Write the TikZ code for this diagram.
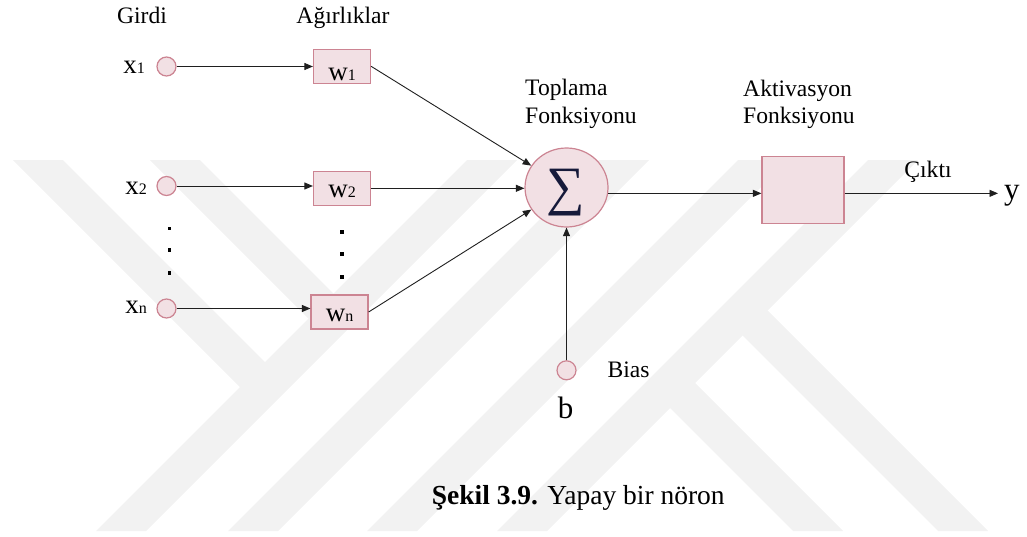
\documentclass[tikz,border=0pt]{standalone}
\usepackage{fontspec}
\setmainfont{Liberation Serif}
\usetikzlibrary{arrows.meta,shapes.geometric}

\definecolor{nodefill}{RGB}{242,224,228}
\definecolor{nodeline}{RGB}{204,132,146}
\definecolor{sumink}{RGB}{22,26,58}
\definecolor{markgray}{RGB}{242,242,242}

\newcommand{\lblfont}{\fontsize{23.6}{28}\selectfont}
\newcommand{\varfont}{\fontsize{27}{30}\selectfont}
\newcommand{\bigvarfont}{\fontsize{31}{34}\selectfont}
\newcommand{\idxfont}{\fontsize{16}{20}\selectfont}
\newcommand{\capfont}{\fontsize{27.5}{32}\selectfont}

\tikzset{
  inputnode/.style={circle, draw=nodeline, fill=nodefill, line width=1.2pt,
    minimum size=19pt, inner sep=0pt},
  weightbox/.style={rectangle, draw=nodeline, fill=nodefill, line width=1.2pt,
    minimum width=57pt, minimum height=34pt, inner sep=0pt},
  sumnode/.style={ellipse, draw=nodeline, fill=nodefill, line width=1.2pt,
    minimum width=83pt, minimum height=79pt, inner sep=0pt},
  actbox/.style={rectangle, draw=nodeline, fill=nodefill, line width=1.2pt,
    minimum width=82pt, minimum height=67pt, inner sep=0pt},
  link/.style={draw=black!88, line width=0.9pt,
    -{Triangle[length=8.5pt,width=7pt]}},
  txt/.style={inner sep=0pt, anchor=base},
  dotmark/.style={fill=black, minimum size=3.6pt, inner sep=0pt, rectangle},
  band/.style={fill=markgray, draw=none}
}

\begin{document}
\begin{tikzpicture}[x=1pt, y=-1pt]
  \useasboundingbox (0,0) rectangle (1027,536);

  % faint background emblem: slanted stripes
  \fill[band] (467,160) -- (517,160) -- (146,531) -- (96,531) -- cycle;
  \fill[band] (599,160) -- (649,160) -- (278,531) -- (228,531) -- cycle;
  \fill[band] (738,160) -- (788,160) -- (417,531) -- (367,531) -- cycle;
  \fill[band] (868,160) -- (918,160) -- (547,531) -- (497,531) -- cycle;
  \fill[band] (13,160) -- (63,160) -- (277.5,374.5) -- (252.5,399.5) -- cycle;
  \fill[band] (150,160) -- (200,160) -- (346,306) -- (321,331) -- cycle;
  \fill[band] (657.5,395.5) -- (682.5,370.5) -- (843,531) -- (793,531) -- cycle;
  \fill[band] (730,323) -- (755,298) -- (988,531) -- (938,531) -- cycle;

  % column headings
  \node[txt] (girdi) at (142,23) {\lblfont Girdi};
  \node[txt] (agirlik) at (343,23) {\lblfont Ağırlıklar};

  % inputs
  \node[inputnode] (x1) at (166.5,66.5) {};
  \node[inputnode] (x2) at (166.5,186) {};
  \node[inputnode] (xn) at (166.5,308.5) {};
  \node[txt, anchor=base east] (x1l) at (145,73.5) {\varfont x\idxfont 1};
  \node[txt, anchor=base east] (x2l) at (147,194) {\varfont x\idxfont 2};
  \node[txt, anchor=base east] (xnl) at (147,313) {\varfont x\idxfont n};

  % weights
  \node[weightbox] (w1) at (342,66.3) {};
  \node[weightbox] (w2) at (342,188.3) {};
  \node[weightbox] (wn) at (339.5,312) {};
  \node[txt] (w1l) at (342,80) {\varfont w\idxfont 1};
  \node[txt] (w2l) at (342,197.5) {\varfont w\idxfont 2};
  \node[txt] (wnl) at (339.5,321.5) {\varfont w\idxfont n};

  % vertical ellipses
  \node[dotmark] (d1) at (169.3,228.3) {};
  \node[dotmark] (d2) at (169.3,250) {};
  \node[dotmark] (d3) at (169.3,272.7) {};
  \node[dotmark] (e1) at (341.7,231.7) {};
  \node[dotmark] (e2) at (341.7,254) {};
  \node[dotmark] (e3) at (341.7,276.7) {};

  % summation
  \node[sumnode] (sum) at (566.5,187.5) {};
  \node[inner sep=0pt] (sigma) at (566,193) {\fontsize{54}{54}\selectfont\color{sumink}∑};
  \node[txt, anchor=base west] (top1) at (525,95) {\lblfont Toplama};
  \node[txt, anchor=base west] (top2) at (525,123.5) {\lblfont Fonksiyonu};

  % activation
  \node[actbox] (act) at (803,190.3) {};
  \node[txt, anchor=base west] (akt1) at (743,96) {\lblfont Aktivasyon};
  \node[txt, anchor=base west] (akt2) at (743,123.5) {\lblfont Fonksiyonu};

  % output
  \node[txt, anchor=base west] (yout) at (1004,199) {\bigvarfont y};
  \node[txt] (cikti) at (928,177) {\lblfont Çıktı};

  % bias
  \node[inputnode] (bias) at (566.5,370.3) {};
  \node[txt, anchor=base west] (biasl) at (607.3,377.3) {\lblfont Bias};
  \node[txt] (bl) at (565.5,418.3) {\bigvarfont b};

  % connections
  \draw[link] (x1.east) -- (x1.east -| w1.west);
  \draw[link] (x2.east) -- (x2.east -| w2.west);
  \draw[link] (xn.east) -- (xn.east -| wn.west);
  \draw[link] (w1.east) -- (sum);
  \draw[link] (w2.east) -- (w2.east -| sum.west);
  \draw[link] (wn.east) -- (sum);
  \draw[link] (sum.-8) -- (sum.-8 -| act.west);
  \draw[link] (act.east |- sum.-8) -- ([xshift=-6pt]yout.west |- sum.-8);
  \draw[link] (bias) -- (sum);

  % caption
  \node[txt, anchor=base west] (caption) at (431.7,504)
    {\capfont\textbf{Şekil 3.9.} Yapay bir nöron};
\end{tikzpicture}
\end{document}
